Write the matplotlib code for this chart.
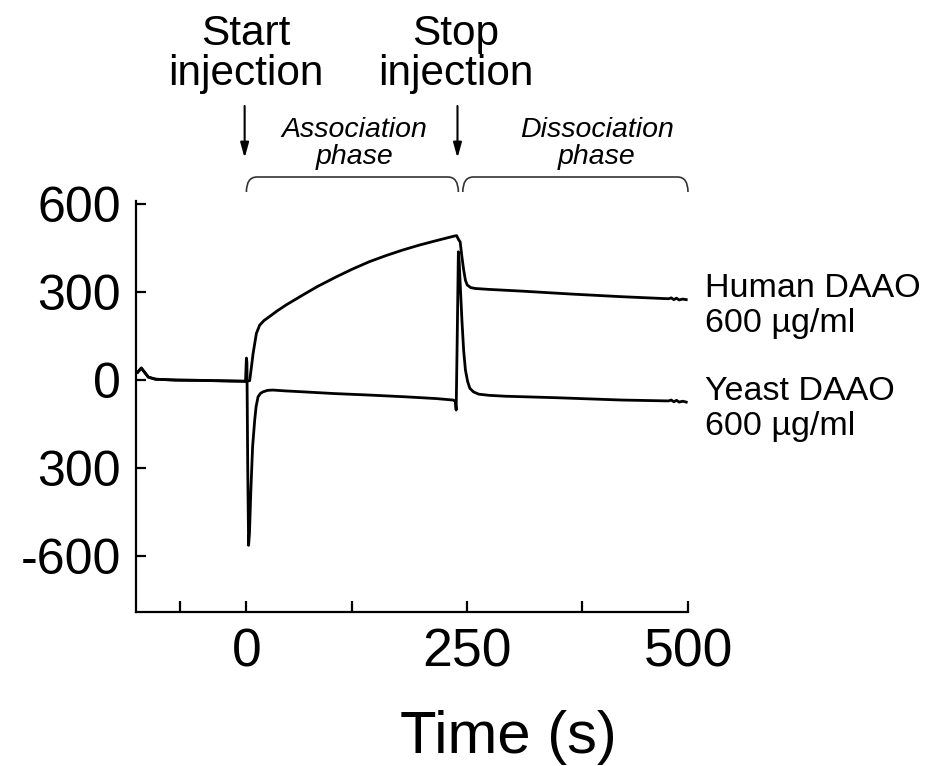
import matplotlib
matplotlib.use("Agg")
import matplotlib.pyplot as plt
from matplotlib.path import Path
from matplotlib.patches import PathPatch
import matplotlib.transforms as mtransforms

plt.rcParams['font.family'] = ['Liberation Sans', 'DejaVu Sans']

# ---------------- data ----------------
baseline_t = [-123, -119, -111, -103, -80, -52, -20, -1]
baseline_ru = [27, 41, 10, 3, 0, -1, -3, -4]

human_t = [3.7, 5.5, 7.6, 11.3, 15, 20, 26, 35, 45, 64, 80, 102, 120, 139, 158,
           177, 196, 215, 236, 238, 240.5, 242, 244, 246, 248, 250, 254, 259,
           274, 312, 368, 425, 478, 481, 484, 487, 490, 494, 498]
human_ru = [-2, 40, 91, 159, 187, 203, 216, 236, 256, 290, 318, 352, 378, 403, 424,
            443, 460, 475, 491, 492, 477, 471, 420, 375, 340, 324, 315, 312,
            309, 303, 293, 284, 277, 280, 274, 279, 273, 276, 274]

yeast_t = [0, 0.6, 1.5, 2.5, 3.5, 5, 7, 9.4, 11, 13.2, 16, 18.9, 24, 30, 45, 64,
           100, 139, 180, 215, 234, 236.5, 237.5, 238.5, 240, 241, 242.5, 244,
           246, 248, 250.5, 253, 257, 263, 275, 293, 350, 425, 478, 481, 484,
           487, 490, 494, 498]
yeast_ru = [75, 60, -300, -563, -520, -380, -228, -136, -90, -57, -45, -40, -35, -34,
            -37, -40, -46, -51, -57, -63, -68, -72, -102, 100, 437, 400, 300, 205,
            100, 34, -5, -28, -40, -48, -52, -55, -60, -68, -71, -68, -74, -69,
            -75, -72, -75]

x_major = [0, 250, 500]
x_major_labels = ['0', '250', '500']
x_minor = [-75, 120, 380]
y_ticks = [600, 300, 0, -300, -600]
y_tick_labels = ['600', '300', '0', '300', '-600']

t_start = 0
t_stop = 240
t_diss = 245
t_end = 500

# ---------------- figure ----------------
W, H = 926, 766
fig = plt.figure(figsize=(W / 100, H / 100), dpi=100)
ax = fig.add_axes([136 / W, 1 - 612 / H, (688 - 136) / W, (612 - 201) / H])

ax.plot(baseline_t + human_t, baseline_ru + human_ru, color='black', lw=2.0,
        solid_joinstyle='round')
ax.plot(baseline_t + yeast_t, baseline_ru + yeast_ru, color='black', lw=2.0,
        solid_joinstyle='round')

ax.set_xlim(-125, 500)
ax.set_ylim(-790, 610)

for s in ['top', 'right']:
    ax.spines[s].set_visible(False)
for s in ['left', 'bottom']:
    ax.spines[s].set_linewidth(1.6)

ax.set_xticks(x_major)
ax.set_xticklabels(x_major_labels)
ax.set_xticks(x_minor, minor=True)
ax.set_yticks(y_ticks)
ax.set_yticklabels(y_tick_labels)
ax.tick_params(axis='x', which='both', direction='in', length=8, width=1.6,
               labelsize=38.5, pad=11)
ax.tick_params(axis='y', which='both', direction='in', length=7, width=1.6,
               labelsize=36, pad=11)

fig.text(508 / W, 1 - 753 / H, 'Time (s)', fontsize=43, ha='center', va='baseline')

# right-hand labels
for txt, yb in [('Human DAAO', 297), ('600 µg/ml', 332),
                ('Yeast DAAO', 400), ('600 µg/ml', 435)]:
    fig.text(705 / W, 1 - yb / H, txt, fontsize=24.5, ha='left', va='baseline')

# top annotations (x in data units, y in figure fraction)
blend = mtransforms.blended_transform_factory(ax.transData, fig.transFigure)

for tx, lines in [(t_start - 1, [('Start', 45), ('injection', 85)]),
                  (t_stop - 3, [('Stop', 45), ('injection', 85)])]:
    for txt, yb in lines:
        ax.text(tx, 1 - yb / H, txt, transform=blend, fontsize=30.5,
                ha='center', va='baseline', clip_on=False)

for tx, lines in [(122, [('Association', 137), ('phase', 164)]),
                  (397, [('Dissociation', 137), ('phase', 164)])]:
    for txt, yb in lines:
        ax.text(tx, 1 - yb / H, txt, transform=blend, fontsize=20.5,
                style='italic', ha='center', va='baseline', clip_on=False)

for tx in [t_start - 2, t_stop - 1]:
    ax.annotate('', xy=(tx, 1 - 158 / H), xytext=(tx, 1 - 106 / H),
                xycoords=blend, textcoords=blend,
                arrowprops=dict(arrowstyle='-|>,head_width=0.25,head_length=0.9',
                                lw=1.5, color='black', shrinkA=0, shrinkB=0))


def brace(x0, x1):
    yt = 1 - 177 / H
    yb = 1 - 192 / H
    r = 12
    verts = [(x0, yb), (x0, yt), (x0 + r, yt), (x1 - r, yt), (x1, yt), (x1, yb)]
    codes = [Path.MOVETO, Path.CURVE3, Path.CURVE3, Path.LINETO, Path.CURVE3, Path.CURVE3]
    p = PathPatch(Path(verts, codes), transform=blend, fill=False, lw=1.2,
                  edgecolor='#333333', clip_on=False)
    ax.add_patch(p)


brace(t_start, t_stop)
brace(t_diss, t_end)

fig.savefig('out.png', dpi=100)
